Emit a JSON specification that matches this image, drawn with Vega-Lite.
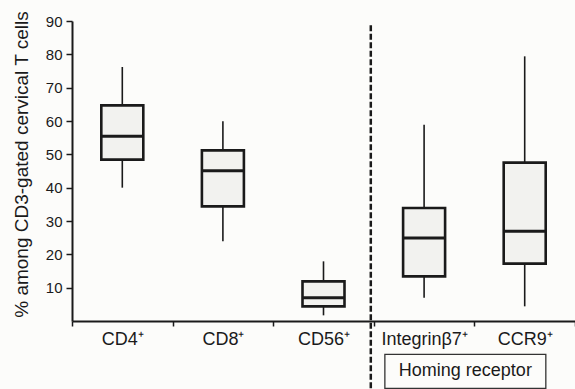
{
  "$schema": "https://vega.github.io/schema/vega-lite/v6.json",
  "width": 503,
  "height": 300,
  "autosize": {"type": "none"},
  "padding": {"left": 72, "top": 21, "right": 0, "bottom": 68},
  "background": "#fcfcfa",
  "config": {
    "view": {"stroke": null},
    "font": "Liberation Sans",
    "axisY": {"labelOverlap": false, "grid": false, "titleFontSize": 19, "titleFontWeight": "normal", "titleColor": "#1a1a1a", "labelFontSize": 15, "labelColor": "#1a1a1a", "domainColor": "#1a1a1a", "domainWidth": 2, "tickColor": "#1a1a1a", "tickWidth": 1.5, "tickSize": 6, "labelPadding": 4, "titlePadding": 14}
  },
  "datasets": {
    "boxes": [
      {"marker": "CD4⁺", "lower": 40.0, "q1": 48.4, "median": 55.4, "q3": 64.7, "upper": 76.2},
      {"marker": "CD8⁺", "lower": 23.9, "q1": 34.4, "median": 45.1, "q3": 51.2, "upper": 59.9},
      {"marker": "CD56⁺", "lower": 1.7, "q1": 4.4, "median": 7.0, "q3": 11.9, "upper": 17.9},
      {"marker": "Integrinβ7⁺", "lower": 7.0, "q1": 13.4, "median": 24.9, "q3": 33.9, "upper": 58.9},
      {"marker": "CCR9⁺", "lower": 4.4, "q1": 17.2, "median": 26.9, "q3": 47.5, "upper": 79.4}
    ],
    "divider": [{"marker": "Integrinβ7⁺", "top": 88.7, "bottom": -20.5}],
    "note": [{"label": "Homing receptor", "x0": 3.11, "x1": 4.71, "xc": 3.91, "y0": -10.0, "y1": -20.2, "yc": -15.0}]
  },
  "layer": [
    {
      "layer": [
        {
          "data": {"name": "boxes"},
          "mark": {"type": "rule", "color": "#1a1a1a", "strokeWidth": 1.6},
          "encoding": {
            "x": {"field": "marker", "type": "nominal", "scale": {"domain": ["CD4⁺", "CD8⁺", "CD56⁺", "Integrinβ7⁺", "CCR9⁺"], "paddingInner": 0, "paddingOuter": 0},
              "axis": {"title": null, "labelAngle": 0, "tickBand": "extent", "labelFontSize": 18, "labelColor": "#1a1a1a", "domainColor": "#1a1a1a", "domainWidth": 2, "tickColor": "#1a1a1a", "tickWidth": 1.5, "tickSize": 5, "labelPadding": 4}},
            "y": {"field": "lower", "type": "quantitative", "scale": {"domain": [0, 90], "nice": false},
              "axis": {"title": "% among CD3-gated cervical T cells", "values": [10, 20, 30, 40, 50, 60, 70, 80, 90], "titleY": 143}},
            "y2": {"field": "upper"}
          }
        },
        {
          "data": {"name": "boxes"},
          "mark": {"type": "bar", "width": 42, "fill": "#f2f2ef", "stroke": "#1a1a1a", "strokeWidth": 2.6},
          "encoding": {
            "x": {"field": "marker", "type": "nominal"},
            "y": {"field": "q1", "type": "quantitative", "scale": {"domain": [0, 90], "nice": false},
              "axis": {"title": "% among CD3-gated cervical T cells", "values": [10, 20, 30, 40, 50, 60, 70, 80, 90], "titleY": 143}},
            "y2": {"field": "q3"}
          }
        },
        {
          "data": {"name": "boxes"},
          "mark": {"type": "tick", "size": 42, "thickness": 3, "color": "#1a1a1a", "opacity": 1},
          "encoding": {
            "x": {"field": "marker", "type": "nominal"},
            "y": {"field": "median", "type": "quantitative", "scale": {"domain": [0, 90], "nice": false},
              "axis": {"title": "% among CD3-gated cervical T cells", "values": [10, 20, 30, 40, 50, 60, 70, 80, 90], "titleY": 143}}
          }
        },
        {
          "data": {"name": "divider"},
          "mark": {"type": "rule", "color": "#1a1a1a", "strokeWidth": 2.5, "strokeDash": [6, 2.5], "xOffset": -3},
          "encoding": {
            "x": {"field": "marker", "type": "nominal", "bandPosition": 0},
            "y": {"field": "top", "type": "quantitative", "scale": {"domain": [0, 90], "nice": false},
              "axis": {"title": "% among CD3-gated cervical T cells", "values": [10, 20, 30, 40, 50, 60, 70, 80, 90], "titleY": 143}},
            "y2": {"field": "bottom"}
          }
        }
      ]
    },
    {
      "data": {"name": "note"},
      "layer": [
        {
          "mark": {"type": "rect", "fill": "#fcfcfa", "stroke": "#333333", "strokeWidth": 1.3},
          "encoding": {
            "x": {"field": "x0", "type": "quantitative", "scale": {"domain": [0, 5], "nice": false, "zero": false}, "axis": null},
            "x2": {"field": "x1"},
            "y": {"field": "y0", "type": "quantitative", "scale": {"domain": [0, 90], "nice": false},
              "axis": {"title": "% among CD3-gated cervical T cells", "values": [10, 20, 30, 40, 50, 60, 70, 80, 90], "titleY": 143}},
            "y2": {"field": "y1"}
          }
        },
        {
          "mark": {"type": "text", "fontSize": 18, "color": "#1a1a1a", "align": "center", "baseline": "middle"},
          "encoding": {
            "x": {"field": "xc", "type": "quantitative", "scale": {"domain": [0, 5], "nice": false, "zero": false}, "axis": null},
            "y": {"field": "yc", "type": "quantitative", "scale": {"domain": [0, 90], "nice": false},
              "axis": {"title": "% among CD3-gated cervical T cells", "values": [10, 20, 30, 40, 50, 60, 70, 80, 90], "titleY": 143}},
            "text": {"field": "label"}
          }
        }
      ]
    }
  ],
  "resolve": {"scale": {"x": "independent"}}
}
